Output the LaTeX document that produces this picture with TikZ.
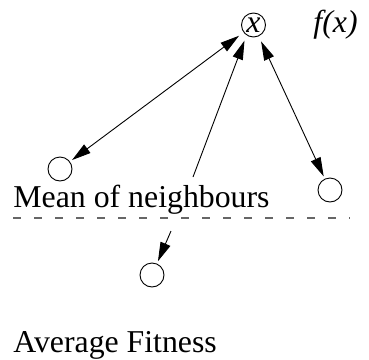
\documentclass[tikz,border=0pt]{standalone}
\usepackage{fontspec}
\setmainfont{Liberation Serif}
\usetikzlibrary{arrows.meta}
\begin{document}
\begin{tikzpicture}[x=1pt, y=-1pt, line width=0.9pt,
  every node/.style={font=\fontsize{31.8}{36}\selectfont},
  nb/.style={circle,draw,minimum size=24pt,inner sep=0pt,outer sep=3pt},
  lbl/.style={anchor=base west,inner sep=0pt},
  tip/.style={-{Triangle[length=19pt,width=10.5pt]}},
  twotip/.style={{Triangle[length=19pt,width=10.5pt]}-{Triangle[length=19pt,width=10.5pt]}}]
\useasboundingbox (0,0) rectangle (369,359);
\node[nb,outer sep=6pt] (fx) at (253.5,25) {\textit{x}};
\node[lbl] (fxlbl) at (313,32) {\textit{f(x)}};
\node[nb] (left) at (60,169) {};
\node[nb] (right) at (330,190) {};
\node[nb] (avg) at (152,275) {};
\node[lbl] (mean) at (13,207) {Mean of neighbours};
\node[lbl] (fitness) at (13,352) {Average Fitness};
\coordinate (midstart) at (193,177);
\coordinate (lowstart) at (171,231);
\coordinate (dashl) at (13,218);
\coordinate (dashr) at (350,218);
\draw[twotip] (fx) -- (left);
\draw[twotip] (fx) -- (right);
\draw[tip] (midstart) -- (fx.240);
\draw[tip] (lowstart) -- (avg);
\draw[black!60,line width=1.1pt,dash pattern=on 8pt off 13pt] (dashl) -- (dashr);
\end{tikzpicture}
\end{document}
